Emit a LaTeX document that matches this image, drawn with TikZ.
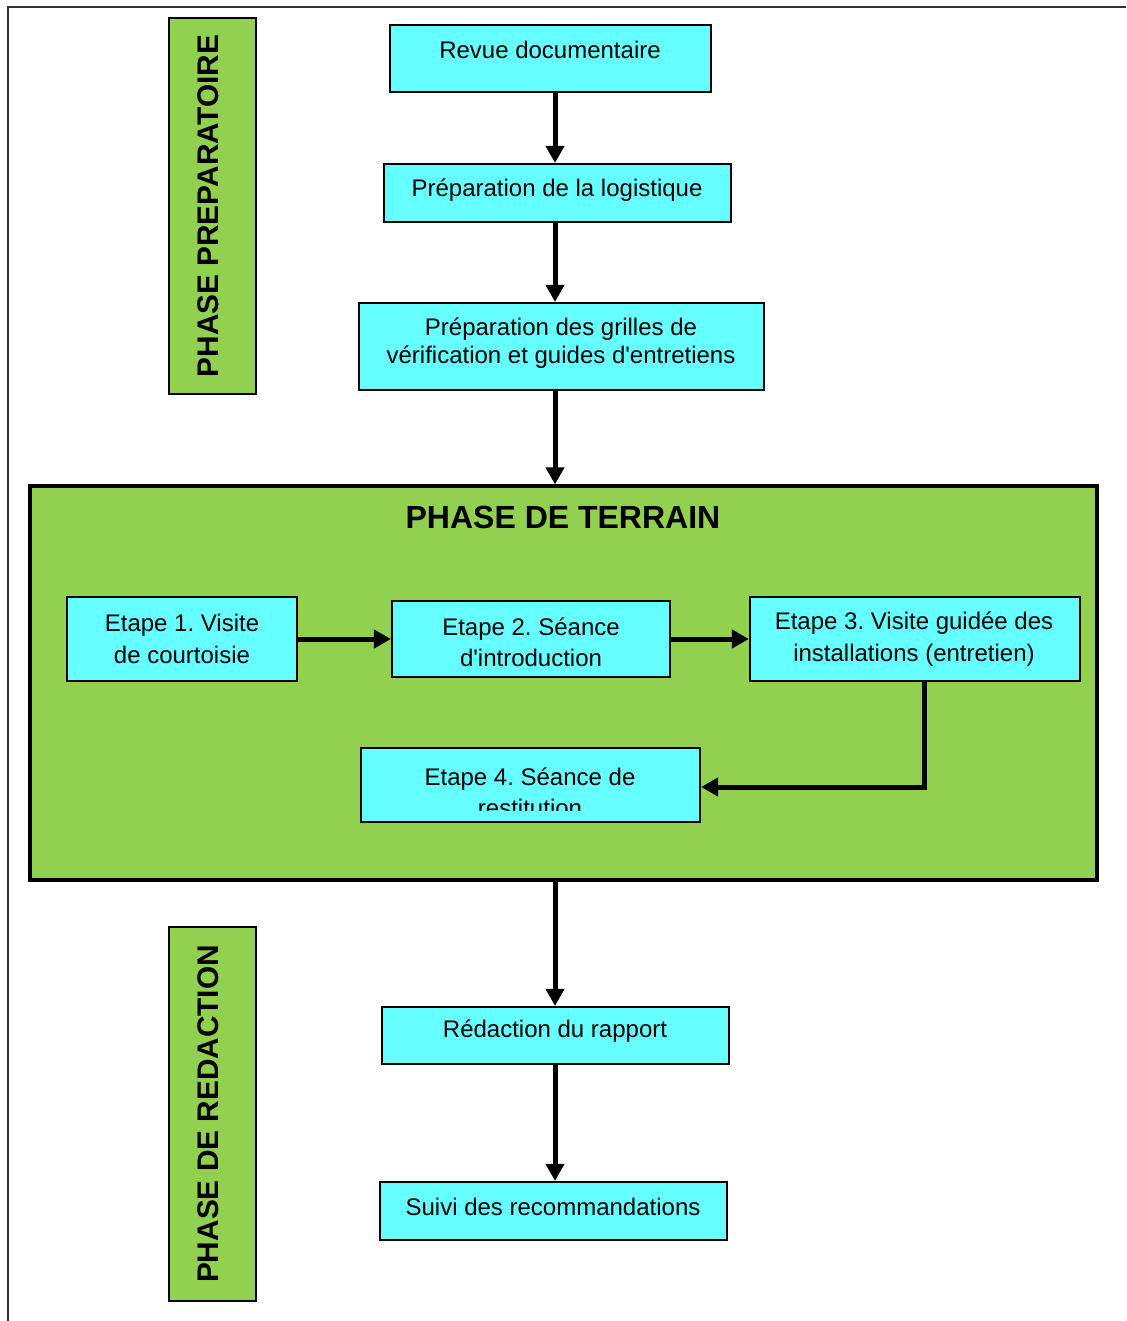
\documentclass[tikz,border=0pt]{standalone}
\usepackage{fontspec}
\setmainfont{Liberation Sans}
\usetikzlibrary{arrows.meta,fit}
\definecolor{boxcyan}{HTML}{66FFFF}
\definecolor{phasegreen}{HTML}{92D050}
\frenchspacing

\begin{document}
\begin{tikzpicture}[x=0.5pt,y=-0.5pt,
  stepbox/.style={draw,fill=boxcyan,line width=1.1pt,inner sep=0pt},
  phasebox/.style={draw,fill=phasegreen,line width=1.1pt,inner sep=0pt},
  flow/.style={line width=2.5pt,-{Triangle[length=8.5pt,width=9pt]}},
  txt/.style={font=\fontsize{12}{16}\selectfont,align=center,inner sep=0pt},
  vtxt/.style={font=\fontsize{14.9}{16}\selectfont\bfseries,rotate=90,inner sep=0pt}]
 \useasboundingbox (0,0) rectangle (1126,1321);

 % frame
 \draw[line width=1pt,black!80] (8,1321) -- (8,7) -- (1126,7);

 % phase labels
 \node[phasebox,fit={(169,18) (256,394)}] (prepbox) {};
 \node[vtxt] (preptxt) at (208,206) {PHASE PREPARATOIRE};
 \node[phasebox,fit={(169,927) (256,1301)}] (redbox) {};
 \node[vtxt] (redtxt) at (208,1114) {PHASE DE REDACTION};

 % preparation steps
 \node[stepbox,fit={(390,25) (711,92)}] (revue) {};
 \node[txt] (revuetxt) at (550,50) {Revue documentaire};
 \node[stepbox,fit={(384,164) (731,222)}] (logist) {};
 \node[txt] (logisttxt) at (557,190) {Préparation de la logistique};
 \node[stepbox,fit={(359,303) (764,390)}] (grilles) {};
 \node[txt,font=\fontsize{12}{14}\selectfont] (grillestxt) at (561,343)
   {Préparation des grilles de\\vérification et guides d\textquotesingle entretiens};

 % field phase
 \node[phasebox,line width=1.6pt,fit={(30,486) (1097,880)}] (terrain) {};
 \node[font=\fontsize{16}{18}\selectfont\bfseries,inner sep=0pt] (terraintxt) at (563,517) {PHASE DE TERRAIN};

 \node[stepbox,fit={(67,597) (297,681)}] (et1) {};
 \node[txt] (et1txt) at (182,639) {Etape 1. Visite\\de courtoisie};
 \node[stepbox,fit={(392,601) (670,677)}] (et2) {};
 \node[txt,font=\fontsize{12}{15.5}\selectfont] (et2txt) at (531,642) {Etape 2. Séance\\d\textquotesingle introduction};
 \node[stepbox,fit={(750,597) (1080,681)}] (et3) {};
 \node[txt] (et3txt) at (914,639) {Etape 3. Visite guidée des\\installations (entretien)};
 \node[stepbox,fit={(361,748) (700,822)}] (et4) {};
 \begin{scope}
  \clip (361,748) rectangle (700,810);
  \node[txt,font=\fontsize{12}{15.5}\selectfont] (et4txt) at (530,792) {Etape 4. Séance de\\restitution};
 \end{scope}

 % writing phase
 \node[stepbox,fit={(382,1007) (729,1064)}] (rapport) {};
 \node[txt] (rapporttxt) at (555,1031) {Rédaction du rapport};
 \node[stepbox,fit={(380,1182) (727,1240)}] (suivi) {};
 \node[txt] (suivitxt) at (553,1207) {Suivi des recommandations};

 % connectors
 \coordinate (spine) at (555,0);
 \coordinate (bend) at (924,787);
 \draw[flow] (revue.south -| spine) -- (logist.north -| spine);
 \draw[flow] (logist.south -| spine) -- (grilles.north -| spine);
 \draw[flow] (grilles.south -| spine) -- (terrain.north -| spine);
 \draw[flow] (et1.east) -- (et2.west);
 \draw[flow] (et2.east) -- (et3.west |- et2.east);
 \draw[flow] (et3.south -| bend) -- (bend) -- (et4.east |- bend);
 \draw[flow] (terrain.south -| spine) -- (rapport.north -| spine);
 \draw[flow] (rapport.south -| spine) -- (suivi.north -| spine);
\end{tikzpicture}
\end{document}
